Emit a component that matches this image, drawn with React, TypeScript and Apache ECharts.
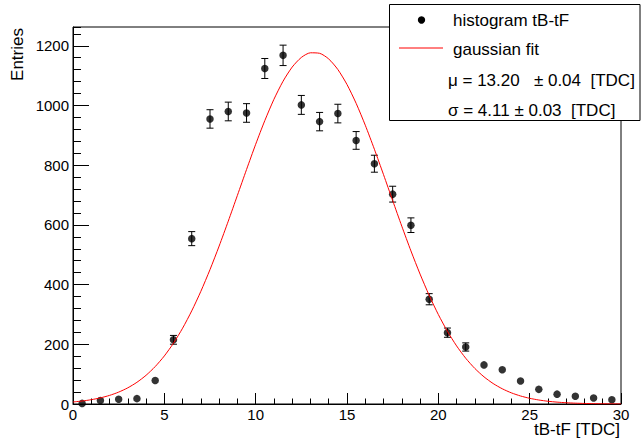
import React, { useEffect, useRef } from "react";
import * as echarts from "echarts";

// Histogram bin centres (tB-tF [TDC]) and their entries
const binCenters = [
  0.5, 1.5, 2.5, 3.5, 4.5, 5.5, 6.5, 7.5, 8.5, 9.5,
  10.5, 11.5, 12.5, 13.5, 14.5, 15.5, 16.5, 17.5, 18.5, 19.5,
  20.5, 21.5, 22.5, 23.5, 24.5, 25.5, 26.5, 27.5, 28.5, 29.5,
];
const entries = [
  2, 12, 16, 18, 79, 215, 554, 955, 980, 975,
  1124, 1168, 1002, 946, 973, 883, 805, 703, 599, 351,
  239, 191, 131, 115, 77, 49, 33, 26, 20, 14,
];
const entryErrors = [
  1.4, 3.5, 4.0, 4.2, 8.9, 14.7, 23.5, 30.9, 31.3, 31.2,
  33.5, 34.2, 31.7, 30.8, 31.2, 29.7, 28.4, 26.5, 24.5, 18.7,
  15.5, 13.8, 11.4, 10.7, 8.8, 7.0, 5.7, 5.1, 4.5, 3.7,
];

// Gaussian fit curve sampled along x
const fitX = [
  0, 0.5, 1, 1.5, 2, 2.5, 3, 3.5, 4, 4.5, 5, 5.5, 6, 6.5, 7, 7.5, 8, 8.5, 9, 9.5,
  10, 10.5, 11, 11.5, 12, 12.5, 13, 13.5, 14, 14.5, 15, 15.5, 16, 16.5, 17, 17.5,
  18, 18.5, 19, 19.5, 20, 20.5, 21, 21.5, 22, 22.5, 23, 23.5, 24, 24.5, 25, 25.5,
  26, 26.5, 27, 27.5, 28, 28.5, 29, 29.5, 30,
];
const fitY = [
  6.8, 10.0, 14.4, 20.5, 28.8, 39.8, 54.2, 72.7, 96.2, 125.4, 161.0, 203.7, 254.0,
  312.0, 377.6, 450.3, 529.1, 612.6, 698.9, 785.5, 870.0, 949.4, 1020.8, 1081.4,
  1128.8, 1161.0, 1176.6, 1174.9, 1155.9, 1120.5, 1070.3, 1007.3, 934.0, 853.4,
  768.3, 681.5, 595.6, 512.9, 435.2, 363.9, 299.7, 243.3, 194.6, 153.3, 119.0,
  91.0, 68.6, 51.0, 37.3, 26.9, 19.1, 13.4, 9.2, 6.3, 4.2, 2.8, 1.8, 1.2, 0.7,
  0.5, 0.3,
];

const xAxisTitle = "tB-tF [TDC]";
const yAxisTitle = "Entries";
const legendLabels = [
  "histogram tB-tF",
  "gaussian fit",
  "μ = 13.20   ± 0.04  [TDC]",
  "σ = 4.11 ± 0.03  [TDC]",
];

const FONT = '"Liberation Sans", Arial, Helvetica, sans-serif';

export default function App() {
  const ref = useRef<HTMLDivElement>(null);

  useEffect(() => {
    document.body.style.margin = "0";
    if (!ref.current) return;
    const chart = echarts.init(ref.current, undefined, { renderer: "svg" });

    const axisColor = "#000";
    const option: any = {
      animation: false,
      backgroundColor: "#fff",
      grid: {
        left: 73,
        right: 21,
        top: 27,
        bottom: 39,
        show: true,
        borderColor: "#000",
        borderWidth: 1,
        backgroundColor: "transparent",
      },
      xAxis: {
        type: "value",
        min: 0,
        max: 30,
        interval: 5,
        axisLine: { show: true, onZero: false, lineStyle: { color: axisColor, width: 1 } },
        axisTick: { show: true, inside: true, length: 11, lineStyle: { color: axisColor } },
        minorTick: { show: true, splitNumber: 5, length: 5.5, lineStyle: { color: axisColor } },
        splitLine: { show: false },
        minorSplitLine: { show: false },
        axisLabel: { color: "#000", fontSize: 15, fontFamily: FONT, margin: 3 },
      },
      yAxis: [
        {
          type: "value",
          min: 0,
          max: 1263,
          interval: 200,
          position: "left",
          axisLine: { show: true, onZero: false, lineStyle: { color: axisColor, width: 1 } },
          axisTick: { show: true, inside: true, length: 16, lineStyle: { color: axisColor } },
          splitLine: { show: false },
          axisLabel: {
            color: "#000",
            fontSize: 15,
            fontFamily: FONT,
            margin: 4,
            showMaxLabel: false,
            formatter: (v: number) => String(v),
          },
        },
        {
          type: "value",
          min: 0,
          max: 1263,
          interval: 40,
          position: "left",
          offset: 0,
          axisLine: { show: false },
          axisTick: { show: true, inside: true, length: 8, lineStyle: { color: axisColor } },
          splitLine: { show: false },
          axisLabel: { show: false },
        },
      ],
      series: [
        {
          type: "custom",
          xAxisIndex: 0,
          yAxisIndex: 0,
          z: 2,
          data: binCenters.map((x, i) => [x, entries[i], entryErrors[i]]),
          encode: { x: 0, y: 1 },
          renderItem: (params: any, api: any) => {
            const x = api.value(0);
            const y = api.value(1);
            const e = api.value(2);
            const hi = api.coord([x, y + e]);
            const lo = api.coord([x, y - e]);
            const half = (lo[1] - hi[1]) / 2;
            if (half < 3.8) return { type: "group", children: [] };
            const cap = 3.5;
            const style = { stroke: "#000", lineWidth: 1 };
            return {
              type: "group",
              children: [
                { type: "line", shape: { x1: hi[0], y1: hi[1], x2: lo[0], y2: lo[1] }, style },
                { type: "line", shape: { x1: hi[0] - cap, y1: hi[1], x2: hi[0] + cap, y2: hi[1] }, style },
                { type: "line", shape: { x1: lo[0] - cap, y1: lo[1], x2: lo[0] + cap, y2: lo[1] }, style },
              ],
            };
          },
        },
        {
          name: legendLabels[0],
          type: "scatter",
          xAxisIndex: 0,
          yAxisIndex: 0,
          z: 3,
          symbol: "circle",
          symbolSize: 7.5,
          itemStyle: { color: "#000" },
          data: binCenters.map((x, i) => [x, entries[i]]),
        },
        {
          name: legendLabels[1],
          type: "line",
          xAxisIndex: 0,
          yAxisIndex: 0,
          z: 4,
          showSymbol: false,
          symbol: "none",
          smooth: 0.25,
          lineStyle: { color: "#ff0000", width: 1 },
          data: fitX.map((x, i) => [x, fitY[i]]),
        },
      ],
      graphic: [
        {
          type: "text",
          x: 620,
          y: 429,
          style: {
            text: xAxisTitle,
            font: `17px ${FONT}`,
            fill: "#000",
            align: "right",
            verticalAlign: "middle",
          },
        },
        {
          type: "text",
          x: 17,
          y: 54.5,
          rotation: Math.PI / 2,
          style: {
            text: yAxisTitle,
            font: `17px ${FONT}`,
            fill: "#000",
            align: "center",
            verticalAlign: "middle",
          },
        },
        {
          type: "group",
          z: 100,
          children: [
            {
              type: "rect",
              shape: { x: 389.5, y: 4.5, width: 250.5, height: 116 },
              style: { fill: "#fff", stroke: "#000", lineWidth: 1 },
            },
            {
              type: "circle",
              shape: { cx: 421.5, cy: 20, r: 3.7 },
              style: { fill: "#000" },
            },
            {
              type: "line",
              shape: { x1: 399, y1: 48, x2: 443, y2: 48 },
              style: { stroke: "#ff0000", lineWidth: 1 },
            },
            {
              type: "text",
              x: 453,
              y: 20,
              style: { text: legendLabels[0], font: `17px ${FONT}`, fill: "#000", verticalAlign: "middle" },
            },
            {
              type: "text",
              x: 453,
              y: 49,
              style: { text: legendLabels[1], font: `17px ${FONT}`, fill: "#000", verticalAlign: "middle" },
            },
            {
              type: "text",
              x: 448,
              y: 80,
              style: { text: legendLabels[2], font: `17px ${FONT}`, fill: "#000", verticalAlign: "middle" },
            },
            {
              type: "text",
              x: 448,
              y: 110,
              style: { text: legendLabels[3], font: `17px ${FONT}`, fill: "#000", verticalAlign: "middle" },
            },
          ],
        },
      ],
    };

    chart.setOption(option);
    return () => chart.dispose();
  }, []);

  return <div ref={ref} style={{ width: 642, height: 443, position: "absolute", left: 0, top: 0 }} />;
}
